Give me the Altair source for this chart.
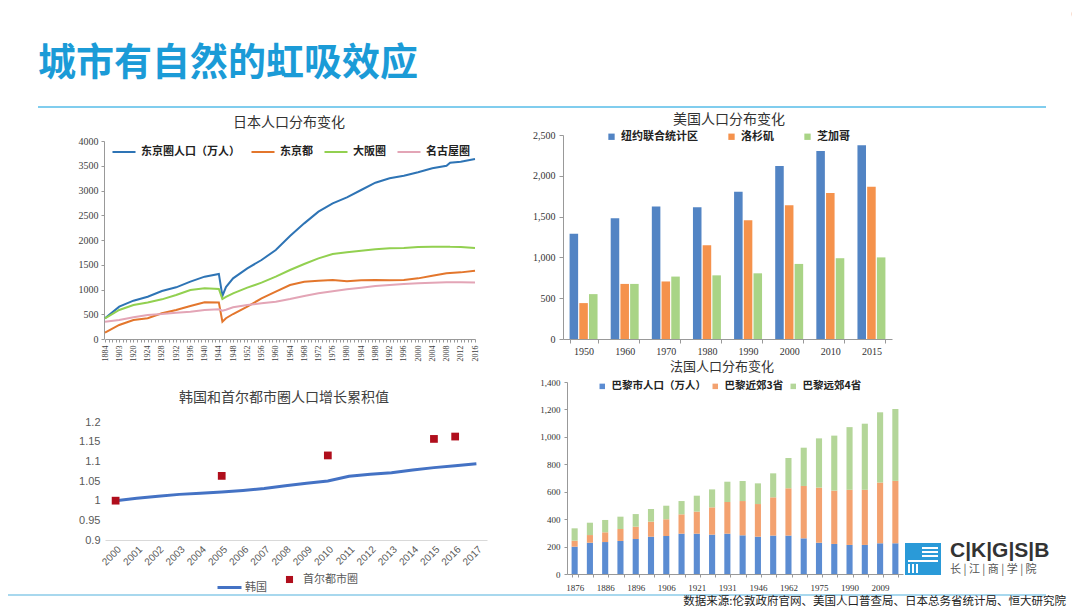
import altair as alt
import pandas as pd

# ---------------- Japan ----------------
jp_series = ["东京圈人口（万人）", "东京都", "大阪圈", "名古屋圈"]
jp_years = ["1884", "1903", "1920", "1924", "1928", "1932", "1936", "1940", "1944", "1945",
            "1946", "1948", "1952", "1956", "1960", "1964", "1968", "1972", "1976", "1980",
            "1984", "1988", "1992", "1996", "2000", "2004", "2008", "2009", "2012", "2016"]
jp_tokyo_area = [418, 653, 774, 855, 970, 1044, 1158, 1259, 1315, 870,
                 1050, 1226, 1427, 1596, 1798, 2081, 2336, 2572, 2741, 2862,
                 3010, 3158, 3246, 3299, 3367, 3448, 3501, 3562, 3582, 3636]
jp_tokyo = [128, 283, 384, 418, 519, 586, 667, 741, 739, 350,
            420, 505, 653, 821, 956, 1091, 1158, 1178, 1190, 1165,
            1185, 1190, 1185, 1190, 1225, 1279, 1326, 1335, 1346, 1380]
jp_osaka = [418, 586, 687, 739, 801, 889, 990, 1024, 1010, 808,
            850, 923, 1037, 1138, 1259, 1394, 1515, 1629, 1717, 1751,
            1785, 1812, 1831, 1838, 1858, 1865, 1865, 1862, 1858, 1838]
jp_nagoya = [350, 384, 438, 485, 505, 532, 552, 586, 600, 572,
             590, 640, 687, 720, 754, 808, 869, 923, 963, 1003,
             1037, 1071, 1091, 1111, 1124, 1138, 1145, 1145, 1145, 1140]
jp_axis_years = ["1884", "1888", "1893", "1898", "1903", "1908", "1913", "1918"] + \
    [str(y) for y in range(1920, 2017)]
jp_label_years = jp_axis_years[::4]
jp_ticks = [0, 500, 1000, 1500, 2000, 2500, 3000, 3500, 4000]

# ---------------- USA ----------------
us_cities = ["纽约联合统计区", "洛杉矶", "芝加哥"]
us_years = ["1950", "1960", "1970", "1980", "1990", "2000", "2010", "2015"]
us_ny = [1290, 1480, 1625, 1615, 1805, 2120, 2305, 2375]
us_la = [440, 675, 705, 1150, 1455, 1640, 1790, 1865]
us_chi = [550, 675, 765, 780, 805, 920, 990, 1000]
us_ticks = [0, 500, 1000, 1500, 2000, 2500]

# ---------------- Korea ----------------
kr_years = ["2000", "2001", "2002", "2003", "2004", "2005", "2006", "2007", "2008",
            "2009", "2010", "2011", "2012", "2013", "2014", "2015", "2016", "2017"]
kr_korea = [1.000, 1.006, 1.011, 1.016, 1.019, 1.022, 1.026, 1.031, 1.038,
            1.044, 1.050, 1.062, 1.067, 1.071, 1.078, 1.084, 1.089, 1.094]
kr_seoul_years = ["2000", "2005", "2010", "2015", "2016"]
kr_seoul = [1.000, 1.063, 1.115, 1.157, 1.163]
kr_ticks = [0.9, 0.95, 1.0, 1.05, 1.1, 1.15, 1.2]

# ---------------- France ----------------
fr_parts = ["巴黎市人口（万人）", "巴黎近郊3省", "巴黎远郊4省"]
fr_years = ["1876", "1881", "1886", "1891", "1896", "1901", "1906", "1911", "1921", "1926", "1931",
            "1936", "1946", "1954", "1962", "1968", "1975", "1982", "1990", "1999", "2009", "2014"]
fr_paris = [199, 228, 233, 241, 255, 272, 277, 294, 294, 287, 294,
            282, 272, 280, 280, 260, 228, 219, 212, 212, 224, 224]
fr_near3 = [44, 56, 71, 87, 90, 110, 122, 141, 161, 199, 231,
            250, 238, 279, 345, 382, 402, 389, 402, 402, 443, 455]
fr_far4 = [90, 90, 90, 90, 92, 92, 99, 97, 116, 131, 148,
           146, 151, 175, 221, 279, 359, 401, 457, 482, 512, 524]
fr_label_years = fr_years[::2]
fr_ticks = [0, 200, 400, 600, 800, 1000, 1200, 1400]

# ---------------- styling ----------------
CJK = "Noto Sans CJK SC"
SERIF = "Liberation Serif"
SANS = "Liberation Sans"
one = alt.Data(values=[{}])


def text_layer(s, x, y, size, color="#333333", weight="normal", align="center", font=CJK):
    return alt.Chart(one).mark_text(
        text=s, fontSize=size, color=color, fontWeight=weight, align=align,
        baseline="middle", font=font
    ).encode(x=alt.value(x), y=alt.value(y))


def rule_layer(x1, x2, y1, y2, color, width):
    return alt.Chart(one).mark_rule(color=color, strokeWidth=width).encode(
        x=alt.value(x1), x2=alt.value(x2), y=alt.value(y1), y2=alt.value(y2))


def label_expr(values):
    arr = ",".join("'" + v + "'" for v in values)
    return "indexof([" + arr + "], datum.value) >= 0 ? datum.value : ''"


# ---------------- Japan chart ----------------
jp_df = pd.DataFrame([
    {"year": y, "series": s, "value": v}
    for s, vals in zip(jp_series, [jp_tokyo_area, jp_tokyo, jp_osaka, jp_nagoya])
    for y, v in zip(jp_years, vals)
])
jp_chart = alt.Chart(jp_df).mark_line(strokeWidth=2).encode(
    x=alt.X("year:O", sort=None,
            scale=alt.Scale(type="point", domain=jp_axis_years, range=[97, 467], padding=0),
            axis=alt.Axis(orient="bottom", offset=-269, title=None, labelAngle=-90,
                          labelFontSize=8, labelFont=SERIF, labelColor="#404040",
                          labelExpr=label_expr(jp_label_years), labelOverlap=False,
                          tickSize=3, tickColor="#999999", domainColor="#999999",
                          grid=False, labelPadding=3)),
    y=alt.Y("value:Q",
            scale=alt.Scale(domain=[0, 4000], range=[331, 133], nice=False),
            axis=alt.Axis(orient="left", offset=-96, title=None, values=jp_ticks, format="d",
                          labelFontSize=10, labelFont=SERIF, labelColor="#404040",
                          tickSize=3, tickColor="#999999", domainColor="#999999",
                          grid=False, labelPadding=3)),
    color=alt.Color("series:N",
                    scale=alt.Scale(domain=jp_series,
                                    range=["#2E74B5", "#E3762C", "#92D050", "#E3A5B6"]),
                    legend=alt.Legend(orient="none", legendX=103, legendY=131,
                                      direction="horizontal", title=None, padding=0,
                                      symbolType="stroke", symbolSize=530,
                                      symbolStrokeWidth=2, labelFont=CJK,
                                      labelFontSize=11, labelFontWeight="bold",
                                      labelColor="#222222", columnPadding=7,
                                      labelOffset=4, labelLimit=300)),
)

# ---------------- USA chart ----------------
us_df = pd.DataFrame([
    {"year": y, "city": c, "value": v}
    for c, vals in zip(us_cities, [us_ny, us_la, us_chi])
    for y, v in zip(us_years, vals)
])
us_chart = alt.Chart(us_df).mark_bar().encode(
    x=alt.X("year:N", sort=us_years,
            scale=alt.Scale(domain=us_years, range=[555, 884], paddingInner=0.32, paddingOuter=0.16),
            axis=alt.Axis(orient="bottom", offset=-269, title=None, labelAngle=0,
                          labelFontSize=10, labelFont=SERIF, labelColor="#333333",
                          tickBand="extent", tickSize=4, tickColor="#999999",
                          domainColor="#999999", grid=False, labelPadding=3)),
    xOffset=alt.XOffset("city:N", sort=us_cities,
                        scale=alt.Scale(domain=us_cities, paddingInner=0.12)),
    y=alt.Y("value:Q",
            scale=alt.Scale(domain=[0, 2500], range=[331, 127], nice=False),
            axis=alt.Axis(orient="left", offset=-555, title=None, values=us_ticks, format=",.0f",
                          labelFontSize=10, labelFont=SERIF, labelColor="#333333",
                          tickSize=4, tickColor="#999999", domainColor="#999999",
                          grid=False, labelPadding=4)),
    color=alt.Color("city:N",
                    scale=alt.Scale(domain=us_cities, range=["#5284C4", "#F5924C", "#A9D486"]),
                    legend=alt.Legend(orient="none", legendX=598, legendY=123,
                                      direction="horizontal", title=None, padding=0,
                                      symbolType="square", symbolSize=40,
                                      labelFont=CJK, labelFontSize=11, labelFontWeight="bold",
                                      labelColor="#222222", columnPadding=28,
                                      labelOffset=4)),
)

# ---------------- Korea chart ----------------
kr_df = pd.DataFrame({"year": kr_years, "value": kr_korea, "series": ["韩国"] * len(kr_years)})
kr_s_df = pd.DataFrame({"year": kr_seoul_years, "value": kr_seoul,
                        "series": ["首尔都市圈"] * len(kr_seoul_years)})
kr_x_scale = alt.Scale(type="point", domain=kr_years, range=[97, 479], padding=0.5)
kr_y_scale = alt.Scale(domain=[0.9, 1.2], range=[532, 414], nice=False, zero=False)
kr_line = alt.Chart(kr_df).mark_line(strokeWidth=3).encode(
    x=alt.X("year:O", sort=None, scale=kr_x_scale,
            axis=alt.Axis(orient="bottom", offset=-68, title=None, labelAngle=-45,
                          labelFontSize=10, labelFont=SANS, labelColor="#595959",
                          ticks=False, domainColor="#D9D9D9", grid=False, labelPadding=4)),
    y=alt.Y("value:Q", scale=kr_y_scale,
            axis=alt.Axis(orient="left", offset=-97, title=None, values=kr_ticks, format="~g",
                          labelFontSize=11, labelFont=SANS, labelColor="#595959",
                          ticks=False, domain=False, grid=False, labelPadding=5)),
    color=alt.Color("series:N",
                    scale=alt.Scale(domain=["韩国"], range=["#4472C4"]),
                    legend=alt.Legend(orient="none", legendX=208, legendY=566,
                                      direction="horizontal", title=None, padding=0,
                                      symbolType="stroke", symbolSize=576,
                                      symbolStrokeWidth=3, labelFont=CJK,
                                      labelFontSize=11, labelColor="#595959",
                                      labelOffset=2)),
)
kr_pts = alt.Chart(kr_s_df).mark_square(size=60, opacity=1).encode(
    x=alt.X("year:O", sort=None, scale=kr_x_scale, axis=None),
    y=alt.Y("value:Q", scale=kr_y_scale, axis=None),
    color=alt.Color("series:N",
                    scale=alt.Scale(domain=["首尔都市圈"], range=["#B00E1C"]),
                    legend=alt.Legend(orient="none", legendX=276, legendY=566,
                                      direction="horizontal", title=None, padding=0,
                                      symbolType="square", symbolSize=50,
                                      labelFont=CJK, labelFontSize=11,
                                      labelColor="#595959", labelOffset=8)),
)

# ---------------- France chart ----------------
fr_df = pd.DataFrame([
    {"year": y, "part": p, "value": v, "ord": i}
    for i, (p, vals) in enumerate(zip(fr_parts, [fr_paris, fr_near3, fr_far4]))
    for y, v in zip(fr_years, vals)
])
fr_chart = alt.Chart(fr_df).mark_bar().encode(
    x=alt.X("year:N", sort=fr_years,
            scale=alt.Scale(domain=fr_years, range=[559, 895], paddingInner=0.6, paddingOuter=0.3),
            axis=alt.Axis(orient="bottom", offset=-34, title=None, labelAngle=0,
                          labelFontSize=9, labelFont=SERIF, labelColor="#333333",
                          labelExpr=label_expr(fr_label_years), labelOverlap=False,
                          tickBand="extent", tickSize=3, tickColor="#999999",
                          domainColor="#999999", grid=False, labelPadding=6)),
    y=alt.Y("value:Q", stack="zero",
            scale=alt.Scale(domain=[0, 1400], range=[566, 374], nice=False),
            axis=alt.Axis(orient="left", offset=-559, title=None, values=fr_ticks, format=",.0f",
                          labelFontSize=9, labelFont=SERIF, labelColor="#333333",
                          tickSize=3, tickColor="#999999", domainColor="#999999",
                          grid=False, labelPadding=4)),
    color=alt.Color("part:N",
                    scale=alt.Scale(domain=fr_parts, range=["#5B8CD2", "#F3A270", "#B4D699"]),
                    legend=alt.Legend(orient="none", legendX=589, legendY=373,
                                      direction="horizontal", title=None, padding=0,
                                      symbolType="square", symbolSize=30,
                                      labelFont=CJK, labelFontSize=10.5, labelFontWeight="bold",
                                      labelColor="#222222", columnPadding=4,
                                      labelOffset=4)),
    order=alt.Order("ord:Q"),
)

# ---------------- decorations ----------------
layers = [
    text_layer("城市有自然的虹吸效应", 30, 56, 38, color="#1B9BD7", weight="bold", align="left"),
    rule_layer(30, 1038, 99, 99, "#56BCE8", 1.5),
    rule_layer(0, 1038, 587, 587, "#A8D8EE", 2),
    text_layer("日本人口分布变化", 281, 115, 14),
    text_layer("美国人口分布变化", 721, 112, 14),
    text_layer("韩国和首尔都市圈人口增长累积值", 276, 390, 14, color="#404040"),
    text_layer("法国人口分布变化", 714, 359, 13),
    jp_chart, us_chart, kr_line, kr_pts, fr_chart,
    # logo
    alt.Chart(one).mark_rect(color="#2A9AD8").encode(
        x=alt.value(897), x2=alt.value(933), y=alt.value(535), y2=alt.value(567)),
    rule_layer(914, 930, 540, 540, "white", 2),
    rule_layer(914, 930, 544, 544, "white", 2),
    rule_layer(914, 930, 548, 548, "white", 2),
    rule_layer(900, 930, 553, 553, "white", 2),
    rule_layer(901, 901, 556, 565, "white", 2),
    rule_layer(905, 905, 556, 565, "white", 2),
    rule_layer(909, 909, 556, 565, "white", 2),
    text_layer("C|K|G|S|B", 942, 543, 21, color="#333333", weight="bold", align="left", font=SANS),
    text_layer("长 | 江 | 商 | 学 | 院", 942, 562, 11, color="#555555", align="left"),
    text_layer("数据来源:伦敦政府官网、美国人口普查局、日本总务省统计局、恒大研究院",
               1058, 594, 11.5, color="#222222", align="right"),
    alt.Chart(one).mark_circle(color="#E8743B", opacity=1, size=700).encode(
        x=alt.value(1077), y=alt.value(6)),
]

chart = alt.layer(*layers).resolve_scale(
    x="independent", y="independent", color="independent", xOffset="independent"
).properties(
    width=1064, height=600, autosize=alt.AutoSizeParams(type="none"), padding=0
).configure_view(stroke=None)

chart.save("out.html", embed_options={"renderer": "svg", "actions": False})
